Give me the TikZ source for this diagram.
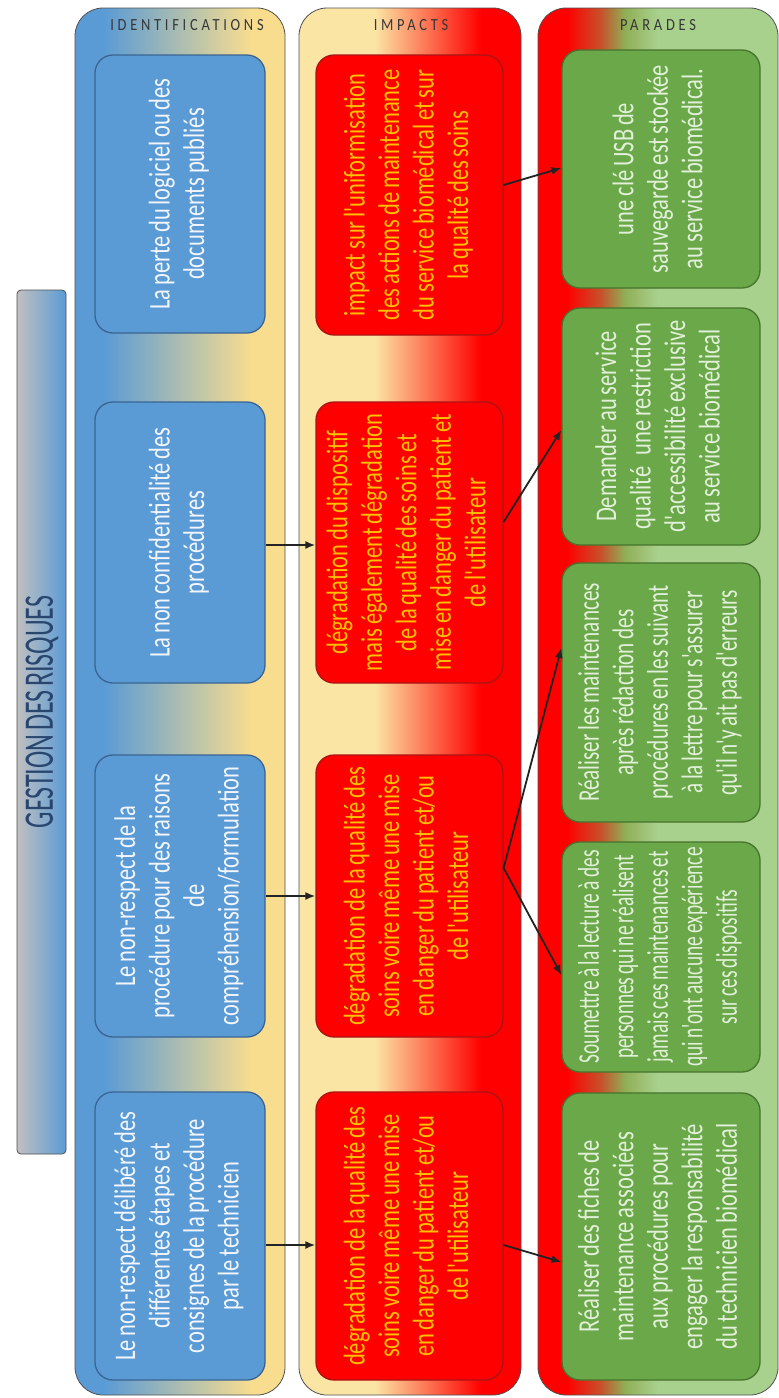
\documentclass[tikz,border=0pt]{standalone}
\usepackage{fontspec}
\setmainfont{Carlito}
\newfontfamily\boxfont[FakeStretch=0.75,WordSpace=0.75]{Carlito}
\newfontfamily\hdrfont[FakeStretch=0.85,LetterSpace=22]{Carlito}
\newfontfamily\gestfont[FakeStretch=0.62,WordSpace=0.6]{Carlito}
\usetikzlibrary{arrows.meta}

\definecolor{idblue}{RGB}{91,155,213}
\definecolor{idyellow}{RGB}{248,221,143}
\definecolor{impyellow}{RGB}{251,229,165}
\definecolor{impred}{RGB}{255,0,0}
\definecolor{parred}{RGB}{255,0,0}
\definecolor{parbrown}{RGB}{200,80,42}
\definecolor{parolive}{RGB}{143,174,85}
\definecolor{parlight}{RGB}{169,209,142}
\definecolor{framec}{RGB}{80,80,80}
\definecolor{idboxfill}{RGB}{91,155,213}
\definecolor{idboxline}{RGB}{58,100,145}
\definecolor{idtext}{RGB}{242,246,252}
\definecolor{impboxfill}{RGB}{255,0,0}
\definecolor{impboxline}{RGB}{170,20,20}
\definecolor{imptext}{RGB}{255,192,0}
\definecolor{parboxfill}{RGB}{106,168,73}
\definecolor{parboxline}{RGB}{70,115,45}
\definecolor{partext}{RGB}{226,240,217}
\definecolor{hdrtext}{RGB}{55,55,55}
\definecolor{gesttext}{RGB}{40,70,110}
\definecolor{gestgray}{RGB}{192,192,192}
\definecolor{arrowc}{RGB}{35,35,35}

% column backgrounds: left-to-right gradients
\pgfdeclarehorizontalshading{idshade}{100bp}{color(0bp)=(idblue); color(32bp)=(idblue); color(67bp)=(idyellow); color(100bp)=(idyellow)}
\pgfdeclarehorizontalshading{impshade}{100bp}{color(0bp)=(impyellow); color(42bp)=(impyellow); color(66bp)=(impred); color(100bp)=(impred)}
\pgfdeclarehorizontalshading{parshade}{100bp}{color(0bp)=(parred); color(31bp)=(parred); color(38bp)=(parbrown); color(43bp)=(parolive); color(50bp)=(parlight); color(100bp)=(parlight)}

% rotated, centred card text; optional argument squeezes the lines
\newcommand\boxtext[2][1]{\rotatebox{90}{\scalebox{#1}[1]{\boxfont\fontsize{30}{34.5}\selectfont\begin{tabular}{@{}c@{}}#2\end{tabular}}}}

\tikzset{
  column/.style={draw=framec, line width=0.8pt, rounded corners=28pt},
  card/.style={rectangle, rounded corners=18pt, line width=1.3pt, inner sep=0pt},
  idcard/.style={card, draw=idboxline, fill=idboxfill, text=idtext, minimum width=170pt},
  impcard/.style={card, draw=impboxline, fill=impboxfill, text=imptext, minimum width=187pt},
  parcard/.style={card, draw=parboxline, fill=parboxfill, text=partext, minimum width=198pt},
  hdr/.style={text=hdrtext, font=\hdrfont\fontsize{17}{17}\selectfont, inner sep=0pt},
  arr/.style={draw=arrowc, line width=1.8pt, -{Latex[length=10pt,width=8pt]}},
}

\begin{document}
\begin{tikzpicture}[x=1pt,y=-1pt]
\useasboundingbox (0,0) rectangle (779,1398);
\fill[white] (0,0) rectangle (779,1398);

% title bar
\shadedraw[draw=framec, line width=0.8pt, rounded corners=4pt, left color=gestgray, right color=idblue]
  (17,290) rectangle (66,1154);
\node[text=gesttext, inner sep=0pt] (title) at (42,712)
  {\rotatebox{90}{\gestfont\fontsize{42}{42}\selectfont GESTION DES RISQUES}};

% the three columns
\shadedraw[column, shading=idshade] (75,8) rectangle (285,1395);
\shadedraw[column, shading=impshade] (299,8) rectangle (521,1395);
\shadedraw[column, shading=parshade] (538,8) rectangle (778,1395);

\node[hdr] (hid) at (187,25) {IDENTIFICATIONS};
\node[hdr] (himp) at (411,25) {IMPACTS};
\node[hdr] (hpar) at (658,25) {PARADES};

% identifications
\node[idcard, minimum height=278pt] (id1) at (180,194)
  {\boxtext{La perte du logiciel ou des\\documents publiés}};
\node[idcard, minimum height=281pt] (id2) at (180,542.5)
  {\boxtext{La non confidentialité des\\procédures}};
\node[idcard, minimum height=282pt] (id3) at (180,896)
  {\boxtext{Le non-respect de la\\procédure pour des raisons\\de\\compréhension/formulation}};
\node[idcard, minimum height=288pt] (id4) at (180,1236)
  {\boxtext{Le non-respect délibéré des\\différentes étapes et\\consignes de la procédure\\par le technicien}};

% impacts
\node[impcard, minimum height=280pt] (imp1) at (409.5,195)
  {\boxtext{impact sur l'uniformisation\\des actions de maintenance\\du service biomédical et sur\\la qualité des soins}};
\node[impcard, minimum height=281pt] (imp2) at (409.5,542.5)
  {\boxtext{dégradation du dispositif\\mais également dégradation\\de la qualité des soins et\\mise en danger du patient et\\de l'utilisateur}};
\node[impcard, minimum height=282pt] (imp3) at (409.5,896)
  {\boxtext{dégradation de la qualité des\\soins voire même une mise\\en danger du patient et/ou\\de l'utilisateur}};
\node[impcard, minimum height=288pt] (imp4) at (409.5,1236)
  {\boxtext{dégradation de la qualité des\\soins voire même une mise\\en danger du patient et/ou\\de l'utilisateur}};

% parades
\node[parcard, minimum height=238pt] (par1) at (661,169)
  {\boxtext{une clé USB de\\sauvegarde est stockée\\au service biomédical.}};
\node[parcard, minimum height=237pt] (par2) at (661,426.5)
  {\boxtext{Demander au service\\qualité~~ une restriction\\d'accessibilité exclusive\\au service biomédical}};
\node[parcard, minimum height=259pt] (par3) at (661,692.5)
  {\boxtext[0.94]{Réaliser les maintenances\\après rédaction des\\procédures en les suivant\\à la lettre pour s'assurer\\qu'il n'y ait pas d'erreurs}};
\node[parcard, minimum height=230pt] (par4) at (661,957)
  {\boxtext[0.86]{Soumettre à la lecture à des\\personnes qui ne réalisent\\jamais ces maintenances et\\qui n'ont aucune expérience\\sur ces dispositifs}};
\node[parcard, minimum height=287pt] (par5) at (661,1236.5)
  {\boxtext{Réaliser des fiches de\\maintenance associées\\aux procédures pour\\engager la responsabilité\\du technicien biomédical}};

% links
\draw[arr] (id2.east |- 0,545) -- (imp2.west |- 0,545);
\draw[arr] (id3.east |- 0,896) -- (imp3.west |- 0,896);
\draw[arr] (id4.east |- 0,1245) -- (imp4.west |- 0,1245);
\draw[arr] (imp1.east |- 0,185) -- (par1.west |- 0,168);
\draw[arr] (imp2.east |- 0,522) -- (par2.west |- 0,430);
\draw[arr] (imp3.east |- 0,868) -- (par3.west |- 0,648);
\draw[arr] (imp3.east |- 0,868) -- (par4.west |- 0,975);
\draw[arr] (imp4.east |- 0,1245) -- (par5.west |- 0,1262);
\end{tikzpicture}
\end{document}
